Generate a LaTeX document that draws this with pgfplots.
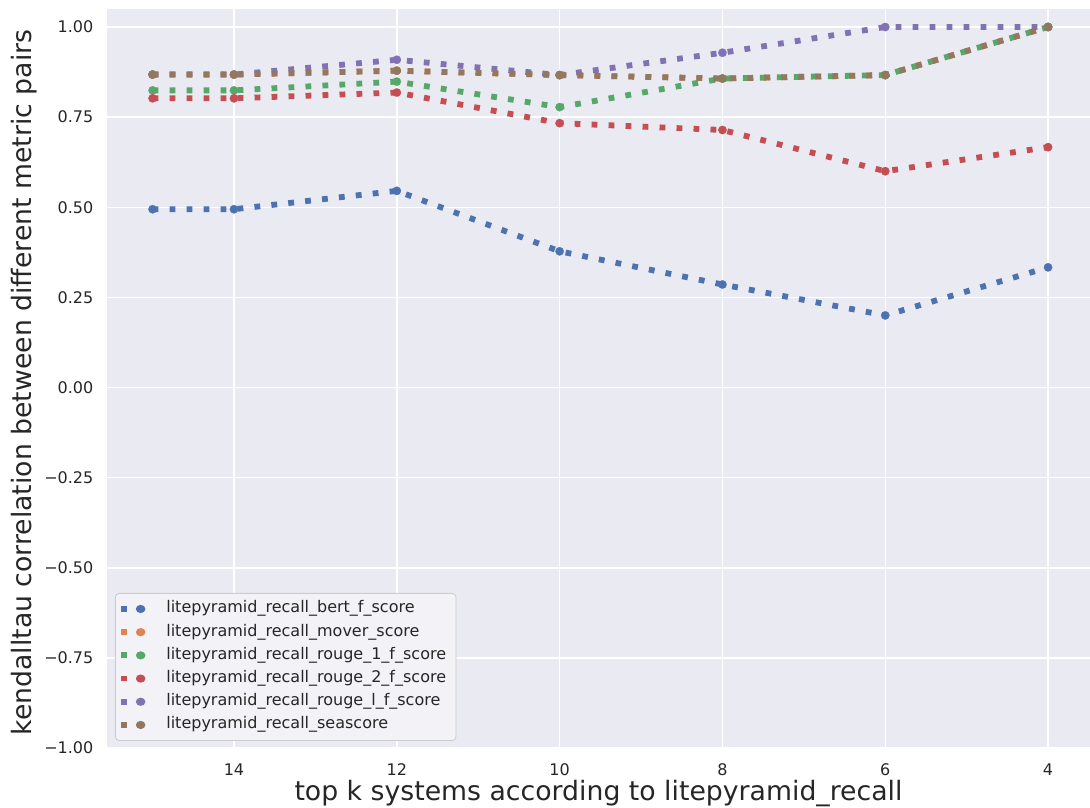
\documentclass[border=0pt]{standalone}
\usepackage{fontspec}
\setmainfont{DejaVu Sans}
\usepackage{pgfplots}
\pgfplotsset{compat=1.18}
\definecolor{sbblue}{HTML}{4C72B0}
\definecolor{sborange}{HTML}{DD8452}
\definecolor{sbgreen}{HTML}{55A868}
\definecolor{sbred}{HTML}{C44E52}
\definecolor{sbpurple}{HTML}{8172B3}
\definecolor{sbbrown}{HTML}{937860}
\definecolor{bgc}{HTML}{EAEAF2}
\definecolor{txt}{HTML}{262626}
\pgfplotsset{
  sbline/.style={color=#1, line width=2.9pt, dash pattern=on 2.9pt off 5.6pt,
    mark=*, mark size=2.1pt, mark options={solid, line width=0.1pt, fill=#1}},
}
\begin{document}
\begin{tikzpicture}
\begin{axis}[
  scale only axis, width=491.5pt, height=369.5pt,
  x dir=reverse, xmin=3.485, xmax=15.56, ymin=-1, ymax=1.05,
  axis background/.style={fill=bgc},
  axis line style={draw=none},
  major tick length=0pt,
  grid=major, major grid style={white, line width=0.75pt},
  xtick={4,6,8,10,12,14}, xticklabels={4,6,8,10,12,14},
  ytick={-1,-0.75,-0.5,-0.25,0,0.25,0.5,0.75,1},
  yticklabels={−1.00,−0.75,−0.50,−0.25,0.00,0.25,0.50,0.75,1.00},
  ticklabel style={font=\fontsize{8}{9.6}\selectfont, text=txt},
  xticklabel style={yshift=-4.3pt},
  yticklabel style={xshift=-3.3pt},
  xlabel={top k systems according to litepyramid\_recall},
  ylabel={kendalltau correlation between different metric pairs},
  label style={font=\fontsize{13.35}{16}\selectfont, text=txt},
  xlabel style={at={(axis description cs:0.5,-0.0717)}, anchor=base},
  ylabel style={at={(axis description cs:-0.0763,0.4946)}, anchor=base},
  legend cell align=left,
  legend style={at={(axis description cs:0.0081,0.0095)}, anchor=south west,
    fill=bgc!60!white, draw=black!20, rounded corners=2pt,
    font=\fontsize{8}{9.6}\selectfont, text=txt,
    nodes={inner ysep=1.8pt, text height=6pt, text depth=2pt}},
  legend image code/.code={
    \begin{scope}[#1]
    \fill[draw=none, line width=0pt, solid, sharp corners] (0pt,-1.45pt) rectangle (3pt,1.45pt);
    \fill[draw=none, line width=0pt, solid, sharp corners] (9.65pt,0pt) ellipse (2.4pt and 2.05pt);
    \end{scope}
    \path[draw=none] (0pt,0pt) -- (20.5pt,0pt);
  },
]
\addplot[sbline=sbblue] coordinates {(15,0.4945)(14,0.4945)(12,0.5455)(10,0.3778)(8,0.2857)(6,0.2)(4,0.3333)};
\addlegendentry{litepyramid\_recall\_bert\_f\_score}
\addplot[sbline=sborange] coordinates {(15,0.8681)(14,0.8681)(12,0.8788)(10,0.8667)(8,0.8571)(6,0.8667)(4,1)};
\addlegendentry{litepyramid\_recall\_mover\_score}
\addplot[sbline=sbgreen] coordinates {(15,0.8242)(14,0.8242)(12,0.8485)(10,0.7778)(8,0.8571)(6,0.8667)(4,1)};
\addlegendentry{litepyramid\_recall\_rouge\_1\_f\_score}
\addplot[sbline=sbred] coordinates {(15,0.8022)(14,0.8022)(12,0.8182)(10,0.7333)(8,0.7143)(6,0.6)(4,0.6667)};
\addlegendentry{litepyramid\_recall\_rouge\_2\_f\_score}
\addplot[sbline=sbpurple] coordinates {(15,0.8681)(14,0.8681)(12,0.9091)(10,0.8667)(8,0.9286)(6,1)(4,1)};
\addlegendentry{litepyramid\_recall\_rouge\_l\_f\_score}
\addplot[sbline=sbbrown] coordinates {(15,0.8681)(14,0.8681)(12,0.8788)(10,0.8667)(8,0.8571)(6,0.8667)(4,1)};
\addlegendentry{litepyramid\_recall\_seascore}
\end{axis}
\pgfresetboundingbox
\path[use as bounding box] (-53.5pt,-29.5pt) rectangle (491.5pt,374pt);
\end{tikzpicture}
\end{document}
